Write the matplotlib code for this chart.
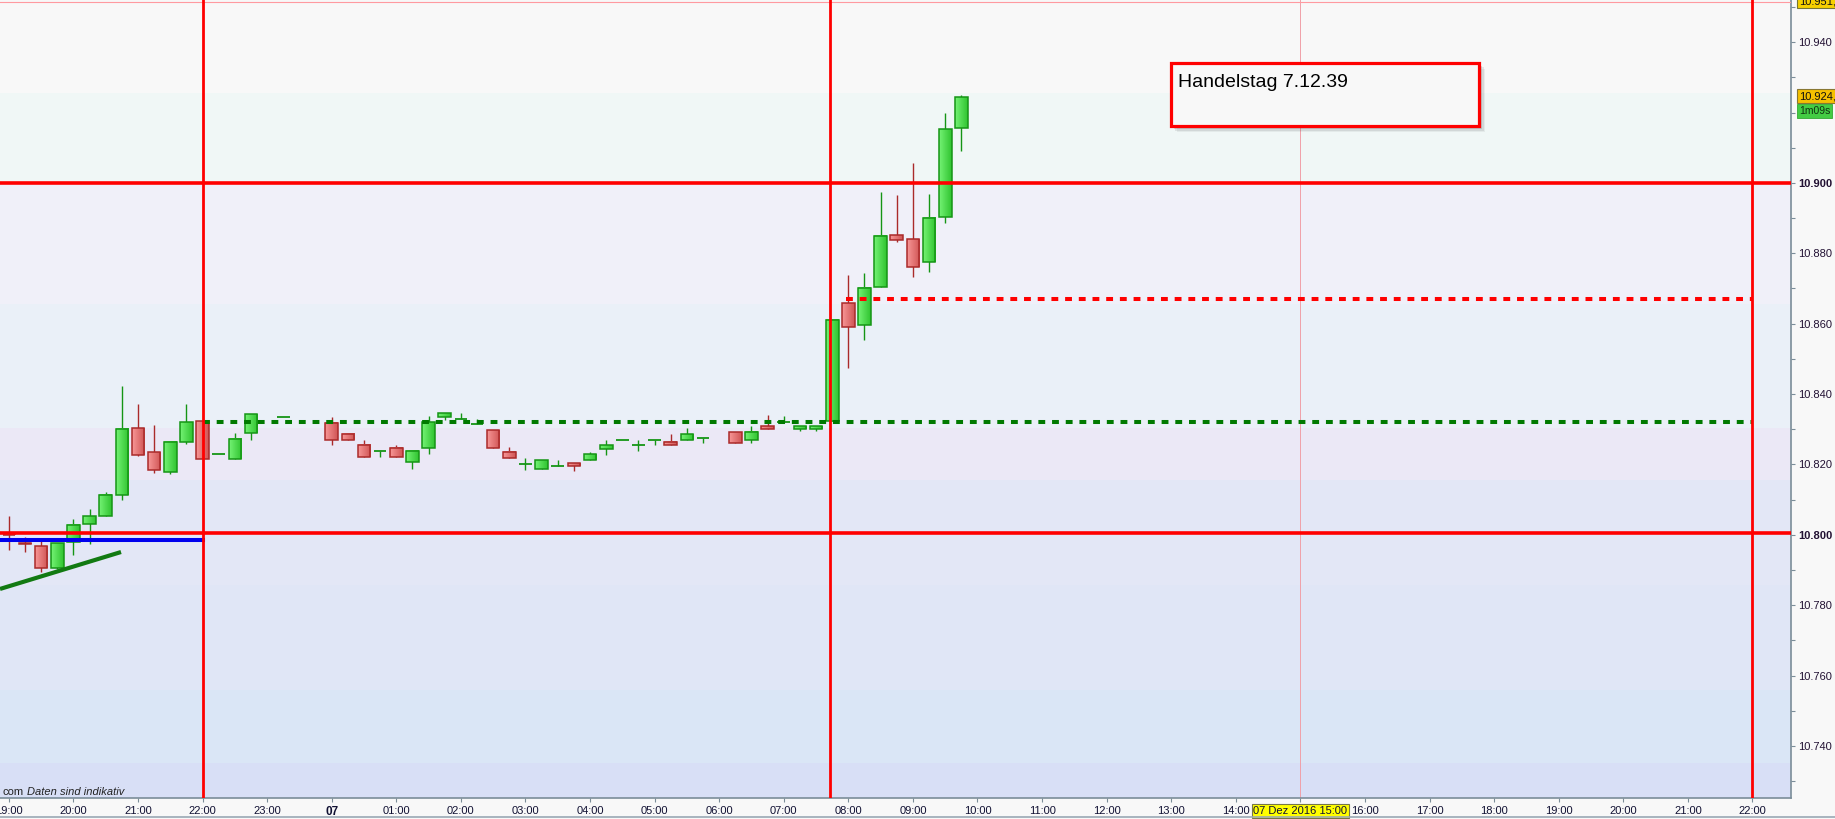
import matplotlib
matplotlib.use("Agg")
import matplotlib.pyplot as plt
import numpy as np
from matplotlib.patches import Rectangle
from matplotlib.colors import to_rgb
import matplotlib.transforms as mtransforms
from matplotlib.lines import Line2D

plt.rcParams['font.family'] = ['Liberation Sans', 'DejaVu Sans']

# ---------------- data ----------------
candle_times = ["19:00", "19:15", "19:30", "19:45", "20:00", "20:15", "20:30", "20:45",
                "21:00", "21:15", "21:30", "21:45", "22:00", "22:15", "22:30", "22:45",
                "23:15", "00:00", "00:15", "00:30", "00:45", "01:00", "01:15", "01:30",
                "01:45", "02:00", "02:15", "02:30", "02:45", "03:00", "03:15", "03:30",
                "03:45", "04:00", "04:15", "04:30", "04:45", "05:00", "05:15", "05:30",
                "05:45", "06:15", "06:30", "06:45", "07:00", "07:15", "07:30", "07:45",
                "08:00", "08:15", "08:30", "08:45", "09:00", "09:15", "09:30", "09:45"]
opens = [10.8000, 10.7977, 10.7968, 10.7907, 10.7979, 10.8032, 10.8052, 10.8112,
         10.8303, 10.8235, 10.8178, 10.8264, 10.8323, 10.8229, 10.8215, 10.8289,
         10.8335, 10.8317, 10.8286, 10.8255, 10.8238, 10.8247, 10.8206, 10.8248,
         10.8336, 10.8329, 10.8316, 10.8298, 10.8235, 10.8201, 10.8187, 10.8196,
         10.8204, 10.8212, 10.8244, 10.8269, 10.8255, 10.8269, 10.8264, 10.8269,
         10.8275, 10.8292, 10.8268, 10.8309, 10.8320, 10.8302, 10.8302, 10.8322,
         10.8658, 10.8595, 10.8703, 10.8852, 10.8840, 10.8774, 10.8903, 10.9157]
highs = [10.8054, 10.7995, 10.7982, 10.7977, 10.8045, 10.8074, 10.8122, 10.8424,
         10.8372, 10.8313, 10.8266, 10.8372, 10.8323, 10.8229, 10.8290, 10.8343,
         10.8335, 10.8335, 10.8286, 10.8270, 10.8238, 10.8256, 10.8238, 10.8338,
         10.8346, 10.8347, 10.8330, 10.8298, 10.8250, 10.8219, 10.8212, 10.8213,
         10.8204, 10.8236, 10.8270, 10.8269, 10.8270, 10.8269, 10.8287, 10.8304,
         10.8275, 10.8292, 10.8310, 10.8341, 10.8338, 10.8309, 10.8309, 10.8611,
         10.8739, 10.8744, 10.8974, 10.8966, 10.9057, 10.8969, 10.9199, 10.9250]
lows = [10.7958, 10.7950, 10.7893, 10.7904, 10.7942, 10.7975, 10.8052, 10.8100,
        10.8223, 10.8177, 10.8172, 10.8257, 10.8215, 10.8229, 10.8215, 10.8270,
        10.8335, 10.8254, 10.8268, 10.8220, 10.8220, 10.8220, 10.8188, 10.8230,
        10.8325, 10.8329, 10.8316, 10.8248, 10.8217, 10.8185, 10.8187, 10.8196,
        10.8180, 10.8212, 10.8228, 10.8269, 10.8238, 10.8254, 10.8255, 10.8269,
        10.8260, 10.8261, 10.8260, 10.8302, 10.8320, 10.8294, 10.8294, 10.8322,
        10.8473, 10.8555, 10.8703, 10.8833, 10.8734, 10.8748, 10.8887, 10.9092]
closes = [10.7999, 10.7975, 10.7907, 10.7977, 10.8028, 10.8053, 10.8113, 10.8300,
          10.8228, 10.8184, 10.8264, 10.8320, 10.8215, 10.8229, 10.8272, 10.8343,
          10.8335, 10.8268, 10.8268, 10.8220, 10.8238, 10.8220, 10.8238, 10.8320,
          10.8346, 10.8329, 10.8316, 10.8248, 10.8217, 10.8201, 10.8212, 10.8196,
          10.8196, 10.8229, 10.8255, 10.8269, 10.8255, 10.8269, 10.8255, 10.8286,
          10.8275, 10.8261, 10.8292, 10.8302, 10.8320, 10.8309, 10.8309, 10.8611,
          10.8590, 10.8701, 10.8849, 10.8839, 10.8762, 10.8901, 10.9153, 10.9243]

x_tick_hours = list(range(-5, 23))
x_tick_labels = ["19:00", "20:00", "21:00", "22:00", "23:00", "07", "01:00", "02:00",
                 "03:00", "04:00", "05:00", "06:00", "07:00", "08:00", "09:00", "10:00",
                 "11:00", "12:00", "13:00", "14:00", "07 Dez 2016 15:00", "16:00",
                 "17:00", "18:00", "19:00", "20:00", "21:00", "22:00"]
y_major = [10.740, 10.760, 10.780, 10.800, 10.820, 10.840, 10.860, 10.880, 10.900, 10.940]
y_minor = [10.730, 10.750, 10.770, 10.790, 10.810, 10.830, 10.850, 10.870, 10.890,
           10.910, 10.920, 10.930, 10.950]
bold_levels = ["10.900", "10.800"]

red_levels = [10.900, 10.8005]
red_vertical_hours = [-2.0, 7.72, 22.0]
pink_top_level = 10.9513
pink_vertical_hour = 15.0
red_dashed_level = 10.8669
red_dashed_span = [7.96, 22.0]
green_dashed_level = 10.8320
green_dashed_span = [-2.0, 22.0]
blue_level = 10.7986
blue_span = [-5.2, -2.0]
trend_hours = [-5.137, -3.263]
trend_prices = [10.7846, 10.7951]

annotation_text = "Handelstag 7.12.39"
last_price_label = "10.924,7"
top_price_label = "10.951,6"
timer_label = "1m09s"
last_price_y = 10.9247
top_price_y = 10.9517
timer_y = 10.9205

# ---------------- helpers ----------------
def to_hours(t):
    h, m = t.split(":")
    return int(h) + int(m) / 60.0

xs = []
day = -1
prev = None
for t in candle_times:
    v = to_hours(t)
    if prev is not None and v < prev:
        day += 1
    xs.append(v + 24 * day)
    prev = v

# ---------------- figure ----------------
W, H = 1835, 819
fig = plt.figure(figsize=(W / 100, H / 100), dpi=100, facecolor='#f8f8f8')
rect = [0, 20.7 / H, 1790.7 / W, 798.3 / H]

bg = fig.add_axes(rect, zorder=0)
bg.axis('off')
bands = [(0, '#f8f8f8'), (94, '#f0f7f6'), (183, '#f0f0f9'), (305, '#eaf0f8'),
         (428, '#ebe8f6'), (480, '#e3e7f6'), (585, '#e0e6f6'), (690, '#dae6f6'),
         (763, '#d8dff6')]
rows = 798
img = np.zeros((rows, 1, 3))
for i in range(rows):
    col = bands[0][1]
    for start, c in bands:
        if i >= start:
            col = c
    img[i, 0, :] = to_rgb(col)
bg.imshow(img, aspect='auto', extent=[0, 1, 0, 1], interpolation='nearest')
bg.set_xlim(0, 1)
bg.set_ylim(0, 1)

ax = fig.add_axes(rect, zorder=1)
ax.patch.set_alpha(0)

# candles
w = 0.196
g1, g2, g_edge = np.array(to_rgb('#74f274')), np.array(to_rgb('#30c430')), '#159515'
r1, r2, r_edge = np.array(to_rgb('#f79696')), np.array(to_rgb('#d05555')), '#aa2a2a'
ramp = np.linspace(0, 1, 24)[None, :, None]
for x, o, h, l, c in zip(xs, opens, highs, lows, closes):
    up = c >= o
    edge = g_edge if up else r_edge
    if h > l:
        ax.vlines(x, l, h, color=edge, lw=1.0, zorder=2)
    lo, hi = min(o, c), max(o, c)
    if hi - lo < 0.00005:
        ax.hlines(lo, x - w / 2, x + w / 2, color=edge, lw=1.3, zorder=3)
    else:
        c1, c2 = (g1, g2) if up else (r1, r2)
        grad = (1 - ramp) * c1 + ramp * c2
        ax.imshow(grad, extent=[x - w / 2, x + w / 2, lo, hi], aspect='auto',
                  interpolation='bilinear', origin='lower', zorder=3)
        ax.add_patch(Rectangle((x - w / 2, lo), w, hi - lo, fill=False,
                               ec=edge, lw=1.1, zorder=3.5))

# lines
for lv in red_levels:
    ax.axhline(lv, color='#ff0000', lw=2.6, zorder=5)
for vx in red_vertical_hours:
    ax.axvline(vx, color='#ff0000', lw=2.0, zorder=5)
ax.axhline(pink_top_level, color='#ff9aa0', lw=0.8, zorder=4)
ax.axvline(pink_vertical_hour, color='#f0a0a8', lw=0.7, zorder=1.5)
ax.plot(red_dashed_span, [red_dashed_level] * 2, color='#ff0000', lw=2.9,
        dashes=(1.7, 1.7), dash_capstyle='butt', zorder=4)
ax.plot(green_dashed_span, [green_dashed_level] * 2, color='#007a00', lw=2.9,
        dashes=(1.7, 1.7), dash_capstyle='butt', zorder=4)
ax.plot(blue_span, [blue_level] * 2, color='#0000ee', lw=2.9, zorder=4)
ax.plot(trend_hours, trend_prices, color='#127a12', lw=3.0, zorder=4,
        solid_capstyle='butt')

ax.set_xlim(-5.137, 22.593)
ax.set_ylim(10.7251, 10.9520)

# axes styling
for s in ['left', 'top']:
    ax.spines[s].set_visible(False)
for s in ['right', 'bottom']:
    ax.spines[s].set_color('#7b8d99')
    ax.spines[s].set_linewidth(1.2)

ax.set_xticks(x_tick_hours)
ax.set_xticklabels(x_tick_labels)
ax.tick_params(axis='x', direction='out', length=3, width=0.8, color='#7b8d99',
               pad=2.5, labelsize=8, labelcolor='#111133')
for lab in ax.get_xticklabels():
    if lab.get_text() == '07':
        lab.set_fontweight('bold')
        lab.set_fontsize(8.5)
    if 'Dez' in lab.get_text():
        lab.set_bbox(dict(boxstyle='square,pad=0.15', fc='#ffff00', ec='#777744', lw=0.8))

ax.yaxis.tick_right()
ax.set_yticks(y_major)
ax.set_yticklabels(["%.3f" % v for v in y_major])
ax.set_yticks(y_minor, minor=True)
ax.tick_params(axis='y', which='both', direction='out', length=3, width=0.8,
               color='#7b8d99', pad=2.5, labelsize=8, labelcolor='#221133')
for lab in ax.get_yticklabels():
    if lab.get_text() in bold_levels:
        lab.set_fontweight('bold')

# right-side price boxes
tr = mtransforms.blended_transform_factory(ax.transAxes, ax.transData)
ax.text(1.0045, top_price_y, top_price_label, transform=tr, fontsize=8, va='center',
        ha='left', color='#111111', clip_on=False,
        bbox=dict(boxstyle='square,pad=0.2', fc='#f6d000', ec='#777733', lw=0.8))
ax.text(1.0045, last_price_y, last_price_label, transform=tr, fontsize=8, va='center',
        ha='left', color='#111111', clip_on=False,
        bbox=dict(boxstyle='square,pad=0.2', fc='#f5c000', ec='#887733', lw=0.8))
ax.text(1.0045, timer_y, timer_label, transform=tr, fontsize=7.5, va='center',
        ha='left', color='#113311', clip_on=False,
        bbox=dict(boxstyle='square,pad=0.2', fc='#44cc44', ec='#33aa33', lw=0.6))

# annotation box
bx0, bx1 = 1170.7 / 1790.7, 1479.0 / 1790.7
by1, by0 = 1 - 62.7 / 798.3, 1 - 126.0 / 798.3
for k, a in [(6, 0.08), (4.5, 0.12), (3, 0.18)]:
    dx, dy = k / 1790.7, k / 798.3
    ax.add_patch(Rectangle((bx0 + dx, by0 - dy), bx1 - bx0, by1 - by0,
                           transform=ax.transAxes, fc='#555555', ec='none',
                           alpha=a, zorder=6))
ax.add_patch(Rectangle((bx0, by0), bx1 - bx0, by1 - by0, transform=ax.transAxes,
                       fc='#f8f8f8', ec='#ff0000', lw=2.3, zorder=7))
ax.text(1177.5 / 1790.7, 1 - 87.3 / 798.3, annotation_text, transform=ax.transAxes,
        fontsize=14, va='baseline', ha='left', color='#000000', zorder=8)

# bottom-left watermark text
fig.text(2 / W, (H - 795.3) / H, "com", fontsize=8, va='baseline', ha='left', color='#222222')
fig.text(26.7 / W, (H - 795.3) / H, "Daten sind indikativ", fontsize=8, style='italic',
         va='baseline', ha='left', color='#222222')

# bottom frame line
fig.add_artist(Line2D([0, 1], [2.0 / H, 2.0 / H], transform=fig.transFigure,
                      color='#9aa8b4', lw=1.2))

fig.savefig('out.png', dpi=100, facecolor=fig.get_facecolor())
